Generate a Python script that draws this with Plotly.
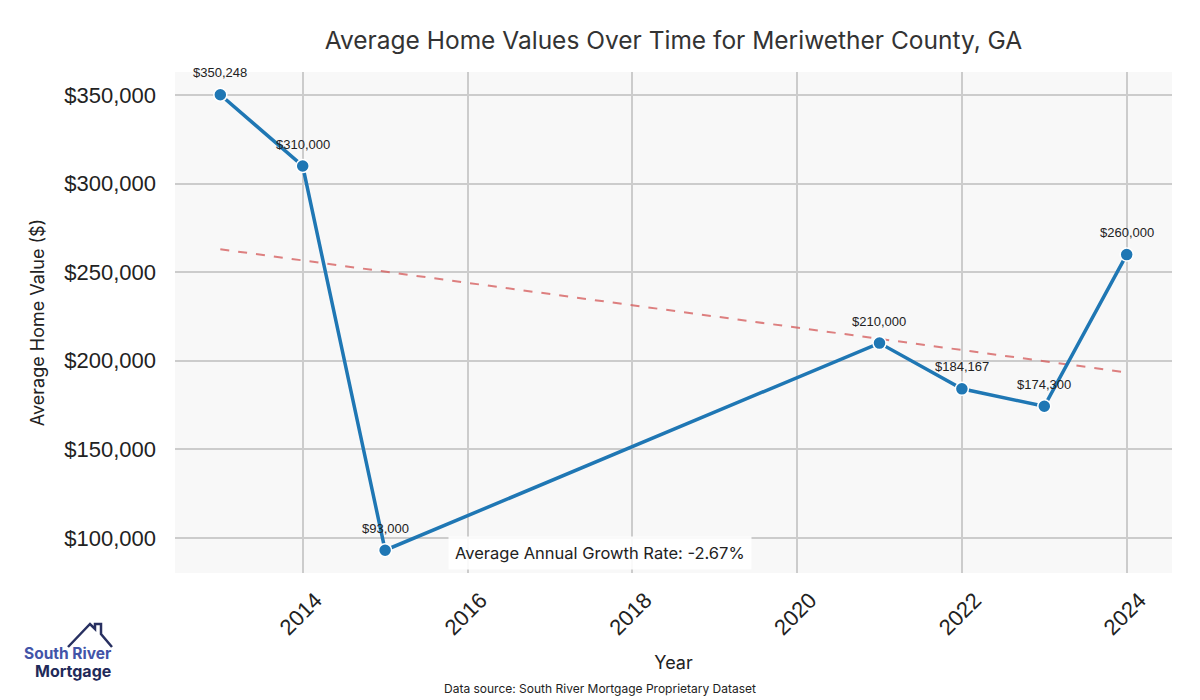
import numpy as np
import plotly.graph_objects as go

years = [2013, 2014, 2015, 2021, 2022, 2023, 2024]
values = [350248, 310000, 93000, 210000, 184167, 174300, 260000]
labels = ["$350,248", "$310,000", "$93,000", "$210,000", "$184,167", "$174,300", "$260,000"]
growth_text = "Average Annual Growth Rate: -2.67%"
title = "Average Home Values Over Time for Meriwether County, GA"
source = "Data source: South River Mortgage Proprietary Dataset"

W, H = 1200, 700
L, R, T, B = 175, 28, 72, 127
pw, ph = W - L - R, H - T - B

def px(x):
    return (x - L) / pw

def py(y):
    return (H - B - y) / ph

coef = np.polyfit(years, values, 1)
trend_x = [years[0], years[-1]]
trend_y = list(np.polyval(coef, trend_x))

fig = go.Figure()
fig.add_trace(go.Scatter(
    x=trend_x, y=trend_y, mode="lines",
    line=dict(color="rgba(214,96,96,0.8)", width=2, dash="dash"),
    hoverinfo="skip", showlegend=False))
fig.add_trace(go.Scatter(
    x=years, y=values, mode="lines+markers",
    line=dict(color="#1f77b4", width=3.5),
    marker=dict(size=13, color="#1f77b4", line=dict(color="white", width=1.5)),
    showlegend=False))

for xv, yv, lab in zip(years, values, labels):
    fig.add_annotation(x=xv, y=yv, text=lab, showarrow=False, yshift=22,
                       font=dict(family="Liberation Sans, Arial", size=13, color="#222"))

font_main = "Inter, Lato, sans-serif"

fig.update_layout(
    width=W, height=H,
    margin=dict(l=L, r=R, t=T, b=B, autoexpand=False),
    paper_bgcolor="white", plot_bgcolor="#f8f8f8",
    title=dict(text=title, x=(325 + 1022) / 2 / W, xanchor="center", y=1 - 40 / H, yanchor="middle",
               font=dict(family=font_main, size=24.5, color="#333")),
    xaxis=dict(range=[2012.45, 2024.55], tickvals=[2014, 2016, 2018, 2020, 2022, 2024],
               tickangle=-45, ticklabelshift=13, ticklabelstandoff=9,
               tickfont=dict(family="Liberation Sans, Arial", size=22, color="#222"),
               showgrid=True, gridcolor="#cccccc", gridwidth=1.5, zeroline=False,
               showline=False, ticks="",
               title=dict(text="Year", font=dict(family=font_main, size=18, color="#222"), standoff=17)),
    yaxis=dict(range=[80138, 363110], tickvals=[100000, 150000, 200000, 250000, 300000, 350000],
               tickformat="$,.0f",
               tickfont=dict(family="Liberation Sans, Arial", size=22, color="#222"),
               showgrid=True, gridcolor="#cccccc", gridwidth=1.5, zeroline=False,
               showline=False, ticks="", ticklabelstandoff=18,
               title=dict(text="Average Home Value ($)", font=dict(family=font_main, size=18, color="#222"), standoff=14)),
)

fig.add_annotation(
    x=px(600), y=py(553), xref="paper", yref="paper", text=growth_text, showarrow=False,
    font=dict(family=font_main, size=16.5, color="#222"),
    bgcolor="rgba(255,255,255,0.9)", borderpad=6, xanchor="center", yanchor="middle")

fig.add_annotation(
    x=px(600), y=py(688), xref="paper", yref="paper", text=source, showarrow=False,
    font=dict(family=font_main, size=12, color="#222"), xanchor="center", yanchor="middle")

# logo
roof = [(68, 647), (90, 624), (95, 629), (95, 624), (101, 624), (101, 634), (112, 647)]
path = "M " + " L ".join(f"{px(a):.5f},{py(b):.5f}" for a, b in roof)
fig.add_shape(type="path", xref="paper", yref="paper", path=path,
              line=dict(color="#283061", width=2.5))
fig.add_annotation(x=px(67.5), y=py(653), xref="paper", yref="paper", text="<b>South River</b>",
                   showarrow=False, font=dict(family=font_main, size=15.5, color="#4254a8"),
                   xanchor="center", yanchor="middle")
fig.add_annotation(x=px(73), y=py(671), xref="paper", yref="paper", text="<b>Mortgage</b>",
                   showarrow=False, font=dict(family=font_main, size=16, color="#1f2a5a"),
                   xanchor="center", yanchor="middle")

fig.write_html("out.html", config={"displayModeBar": False},
               post_script="document.body.style.margin='0';")
